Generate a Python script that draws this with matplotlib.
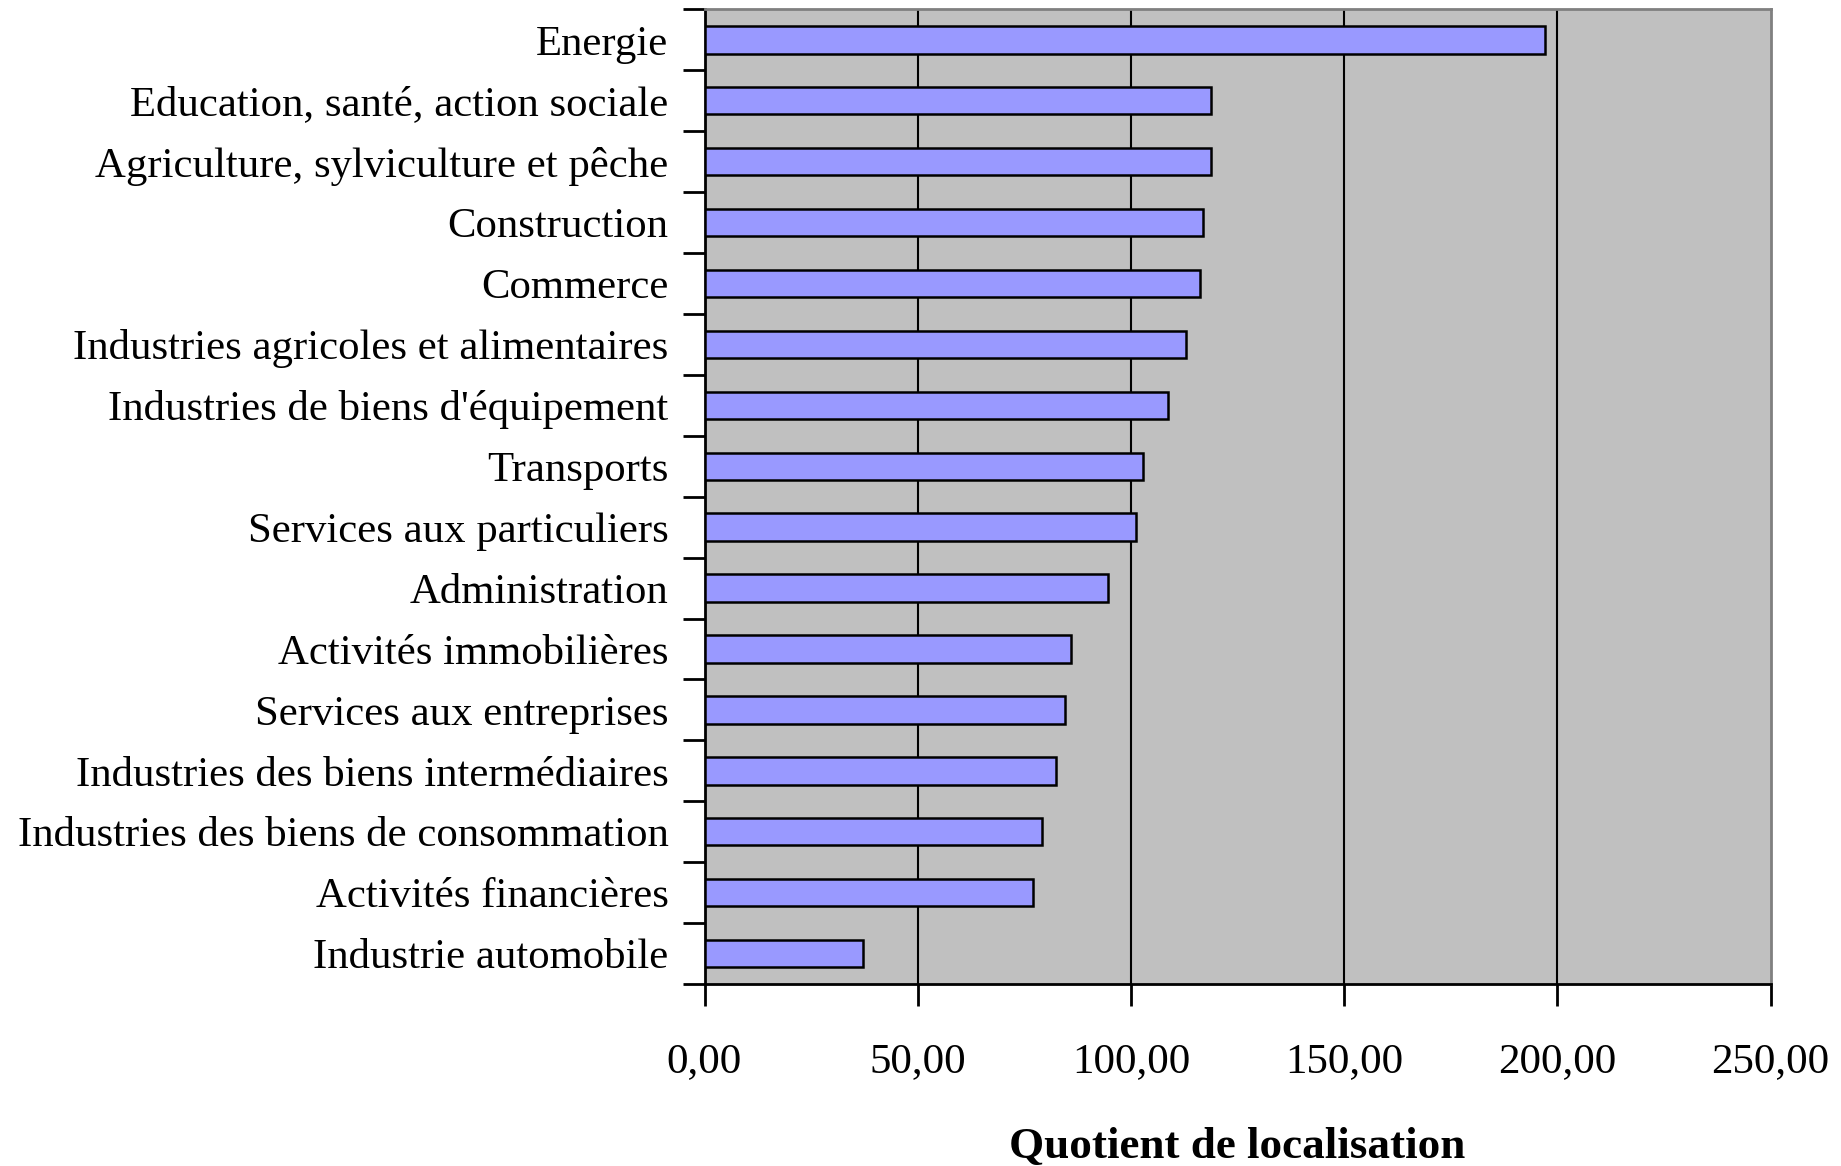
import matplotlib
matplotlib.use("Agg")
import matplotlib.pyplot as plt
import numpy as np

# Sectors (top to bottom) and their location quotients
categories = [
    "Energie",
    "Education, santé, action sociale",
    "Agriculture, sylviculture et pêche",
    "Construction",
    "Commerce",
    "Industries agricoles et alimentaires",
    "Industries de biens d'équipement",
    "Transports",
    "Services aux particuliers",
    "Administration",
    "Activités immobilières",
    "Services aux entreprises",
    "Industries des biens intermédiaires",
    "Industries des biens de consommation",
    "Activités financières",
    "Industrie automobile",
]
values = [197.2, 118.8, 118.8, 116.8, 116.1, 112.8, 108.7, 102.8,
          101.2, 94.6, 85.9, 84.5, 82.5, 79.2, 77.1, 37.2]
xticks = [0, 50, 100, 150, 200, 250]
xtick_labels = ["0,00", "50,00", "100,00", "150,00", "200,00", "250,00"]
xlabel = "Quotient de localisation"

plt.rcParams["font.family"] = ["Liberation Serif", "DejaVu Serif"]

W, H = 1841, 1166
fig = plt.figure(figsize=(W / 100, H / 100), dpi=100)
left, right, top, bottom = 704.5 / W, 1770.6 / W, 1 - 9.4 / H, 1 - 984 / H
ax = fig.add_axes([left, bottom, right - left, top - bottom])
ax.set_facecolor("#C0C0C0")

n = len(categories)
pos = np.arange(n)
ax.barh(pos, values, height=0.45, color="#9999FF", edgecolor="black",
        linewidth=1.8, zorder=3)

ax.set_xlim(0, 250)
ax.set_ylim(n - 0.5, -0.5)

# Vertical gridlines
for g in xticks[1:-1]:
    ax.axvline(g, color="black", linewidth=1.5, zorder=1)

ax.set_xticks(xticks)
ax.set_xticklabels(xtick_labels, fontsize=31)
ax.tick_params(axis="x", direction="out", length=16, width=2, pad=26)

# Major y ticks sit on category boundaries, labels on minor ticks at centers
ax.set_yticks(np.arange(n + 1) - 0.5)
ax.set_yticklabels([])
ax.tick_params(axis="y", which="major", direction="out", length=16, width=2)
ax.set_yticks(pos, minor=True)
ax.set_yticklabels(categories, minor=True, fontsize=30.8)
ax.tick_params(axis="y", which="minor", length=0, pad=26)

for s in ("left", "bottom"):
    ax.spines[s].set_color("black")
    ax.spines[s].set_linewidth(2)
for s in ("top", "right"):
    ax.spines[s].set_color("#808080")
    ax.spines[s].set_linewidth(2)

fig.text((left + right) / 2, 1 - 1147 / H, xlabel, ha="center", va="center",
         fontsize=32.5, fontweight="bold")

fig.savefig("out.png", dpi=100, facecolor="white")
